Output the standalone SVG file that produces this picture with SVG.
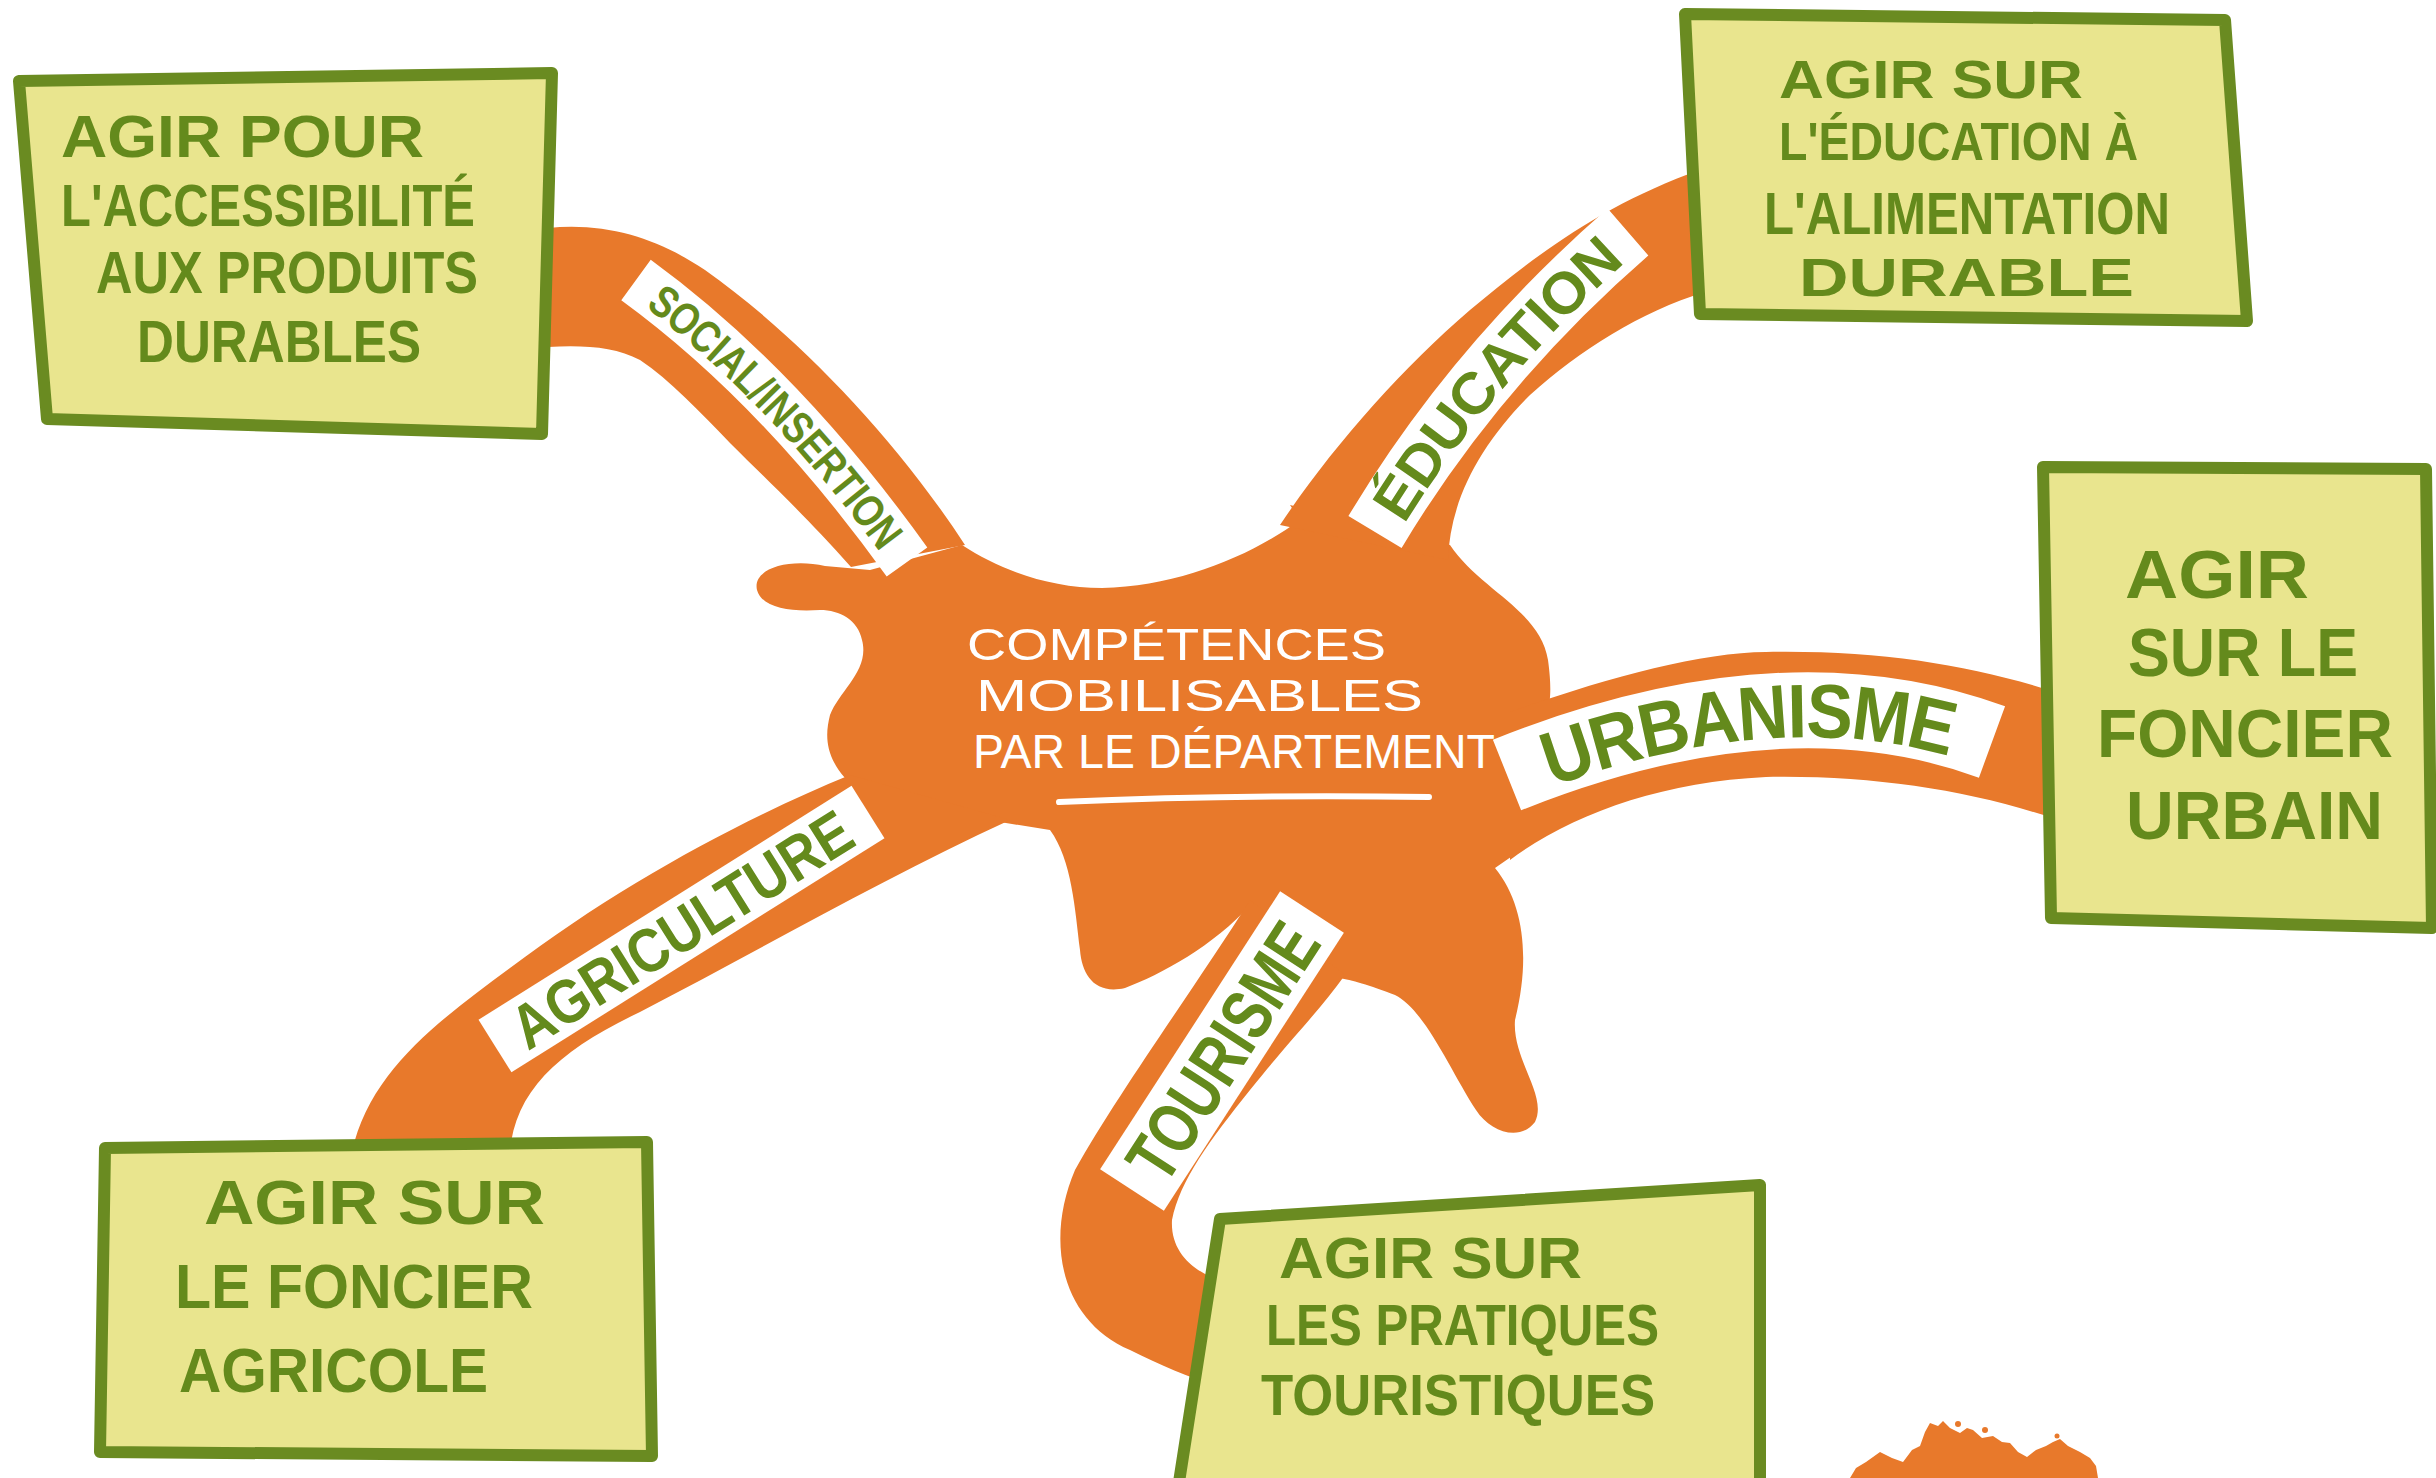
<svg xmlns="http://www.w3.org/2000/svg" width="2436" height="1478" viewBox="0 0 2436 1478">
<style>
.orange{fill:#e8792b}
.box{fill:#e9e58e;stroke:#6a8b21;stroke-width:12;stroke-linejoin:round}
.bt{font-family:'Liberation Sans',Arial,sans-serif;font-weight:bold;fill:#648a1c}
.ct{font-family:'Liberation Sans',Arial,sans-serif;font-weight:normal;fill:#ffffff}
.lbl{fill:none;stroke:#ffffff;stroke-linecap:butt}
.lt{font-family:'Liberation Sans',Arial,sans-serif;font-weight:bold;fill:#648a1c}
</style>
<rect width="2436" height="1478" fill="#ffffff"/>

<g id="center">
<path class="orange" d="M 757,590 C 752,568 790,558 825,566 L 870,570 L 962,545 C 1000,570 1050,588 1102,588 C 1180,586 1250,556 1300,520 L 1290,505 L 1450,545 C 1480,590 1540,610 1548,660 C 1552,690 1550,700 1548,712 L 1550,830 L 1495,868 C 1525,905 1530,960 1515,1020 C 1512,1060 1548,1095 1535,1122 C 1520,1142 1490,1132 1476,1110 C 1450,1070 1425,1010 1395,995 C 1370,985 1350,980 1340,978 L 1250,905 C 1215,945 1160,975 1125,988 C 1095,995 1082,975 1080,950 C 1075,910 1072,860 1050,830 L 1000,822 L 845,778 C 825,755 825,735 830,715 C 840,690 870,670 862,640 C 858,620 840,610 820,610 C 790,612 762,608 757,590 Z"/>
<text class="ct" x="967" y="660" font-size="45" textLength="419" lengthAdjust="spacingAndGlyphs">COMPÉTENCES</text>
<text class="ct" x="976" y="711" font-size="45" textLength="447" lengthAdjust="spacingAndGlyphs">MOBILISABLES</text>
<text class="ct" x="973" y="768" font-size="48" textLength="522" lengthAdjust="spacingAndGlyphs">PAR LE DÉPARTEMENT</text>
<path d="M 1059,802 Q 1240,794 1429,797" fill="none" stroke="#ffffff" stroke-width="6" stroke-linecap="round"/>
</g>

<g id="connectors">
<g id="c-social">
<path class="orange" d="M 548,228 C 610,222 660,240 705,270 C 790,330 890,430 965,545 L 851,567 C 800,510 765,478 730,443 C 700,412 670,380 640,360 C 615,347 585,345 548,347 Z"/>
<path id="p-social" class="lbl" stroke-width="50" d="M 636,280 Q 780,385 907,562"/>
<text class="lt" font-size="45" dy="16"><textPath href="#p-social" startOffset="50%" text-anchor="middle" textLength="345" lengthAdjust="spacingAndGlyphs">SOCIAL/INSERTION</textPath></text>
</g>
<g id="c-education">
<path class="orange" d="M 1280,525 C 1330,450 1400,370 1470,310 C 1530,260 1600,205 1700,170 L 1705,292 C 1640,312 1580,350 1530,395 C 1480,445 1450,500 1448,560 Z"/>
<path id="p-education" class="lbl" stroke-width="62" d="M 1375,532 Q 1475,365 1628,232"/>
<text class="lt" font-size="58" dy="21"><textPath href="#p-education" startOffset="50%" text-anchor="middle" textLength="350" lengthAdjust="spacingAndGlyphs">ÉDUCATION</textPath></text>
</g>
<g id="c-urbanisme">
<path class="orange" d="M 1510,712 C 1600,680 1700,652 1766,652 C 1880,650 1970,665 2055,692 L 2055,819 C 1970,790 1870,775 1766,777 C 1660,782 1570,815 1510,860 Z"/>
<path id="p-urbanisme" class="lbl" stroke-width="76" d="M 1507,775 Q 1782,665 1992,742"/>
<text class="lt" font-size="76" dy="27"><textPath href="#p-urbanisme" startOffset="50%" text-anchor="middle" textLength="420" lengthAdjust="spacingAndGlyphs">URBANISME</textPath></text>
</g>
<g id="c-agriculture">
<path class="orange" d="M 850,775 C 740,820 620,885 510,968 C 440,1020 370,1070 352,1152 L 510,1152 C 515,1090 560,1050 640,1012 C 760,950 880,880 1010,820 Z"/>
<path id="p-agriculture" class="lbl" stroke-width="62" d="M 495,1046 L 868,812"/>
<text class="lt" font-size="62" dy="22"><textPath href="#p-agriculture" startOffset="50%" text-anchor="middle" textLength="390" lengthAdjust="spacingAndGlyphs">AGRICULTURE</textPath></text>
</g>
<g id="c-tourisme">
<path class="orange" d="M 1250,900 C 1200,980 1120,1090 1075,1170 C 1045,1240 1060,1320 1130,1350 C 1160,1365 1190,1378 1215,1385 L 1232,1284 C 1198,1276 1170,1255 1172,1220 C 1180,1180 1210,1140 1250,1090 C 1290,1040 1320,1010 1345,975 Z"/>
<path id="p-tourisme" class="lbl" stroke-width="76" d="M 1132,1190 L 1312,912"/>
<text class="lt" font-size="72" dy="26"><textPath href="#p-tourisme" startOffset="50%" text-anchor="middle" textLength="290" lengthAdjust="spacingAndGlyphs">TOURISME</textPath></text>
</g>
</g>

<g id="box-accessibilite">
<polygon class="box" points="19,81 552,73 542,434 47,419"/>
<text class="bt" x="61" y="157" font-size="59" textLength="363" lengthAdjust="spacingAndGlyphs">AGIR POUR</text>
<text class="bt" x="61" y="226" font-size="59" textLength="414" lengthAdjust="spacingAndGlyphs">L'ACCESSIBILITÉ</text>
<text class="bt" x="96" y="293" font-size="59" textLength="382" lengthAdjust="spacingAndGlyphs">AUX PRODUITS</text>
<text class="bt" x="137" y="362" font-size="59" textLength="284" lengthAdjust="spacingAndGlyphs">DURABLES</text>
</g>

<g id="box-education">
<polygon class="box" points="1685,14 2225,20 2247,321 1700,314"/>
<text class="bt" x="1779" y="98" font-size="54" textLength="304" lengthAdjust="spacingAndGlyphs">AGIR SUR</text>
<text class="bt" x="1779" y="160" font-size="54" textLength="359" lengthAdjust="spacingAndGlyphs">L'ÉDUCATION À</text>
<text class="bt" x="1764" y="234" font-size="60" textLength="406" lengthAdjust="spacingAndGlyphs">L'ALIMENTATION</text>
<text class="bt" x="1799" y="296" font-size="54" textLength="335" lengthAdjust="spacingAndGlyphs">DURABLE</text>
</g>

<g id="box-urbain">
<polygon class="box" points="2043,467 2426,469 2432,928 2051,918"/>
<text class="bt" x="2125" y="598" font-size="69" textLength="184" lengthAdjust="spacingAndGlyphs">AGIR</text>
<text class="bt" x="2128" y="676" font-size="69" textLength="230" lengthAdjust="spacingAndGlyphs">SUR LE</text>
<text class="bt" x="2097" y="757" font-size="69" textLength="296" lengthAdjust="spacingAndGlyphs">FONCIER</text>
<text class="bt" x="2126" y="839" font-size="69" textLength="257" lengthAdjust="spacingAndGlyphs">URBAIN</text>
</g>

<g id="box-agricole">
<polygon class="box" points="105,1148 647,1142 652,1456 100,1452"/>
<text class="bt" x="204" y="1224" font-size="63" textLength="341" lengthAdjust="spacingAndGlyphs">AGIR SUR</text>
<text class="bt" x="175" y="1308" font-size="63" textLength="358" lengthAdjust="spacingAndGlyphs">LE FONCIER</text>
<text class="bt" x="179" y="1392" font-size="63" textLength="309" lengthAdjust="spacingAndGlyphs">AGRICOLE</text>
</g>

<g id="box-touristiques">
<polygon class="box" points="1220,1219 1760,1185 1760,1495 1177,1495"/>
<text class="bt" x="1279" y="1278" font-size="57" textLength="303" lengthAdjust="spacingAndGlyphs">AGIR SUR</text>
<text class="bt" x="1266" y="1345" font-size="58" textLength="393" lengthAdjust="spacingAndGlyphs">LES PRATIQUES</text>
<text class="bt" x="1261" y="1415" font-size="58" textLength="394" lengthAdjust="spacingAndGlyphs">TOURISTIQUES</text>
</g>

<g id="bush">
<path class="orange" d="M 1850,1478 L 1856,1468 L 1866,1462 L 1880,1452 L 1892,1458 L 1903,1462 L 1912,1450 L 1920,1446 L 1925,1432 L 1930,1423 L 1938,1426 L 1943,1421 L 1950,1428 L 1960,1433 L 1967,1428 L 1973,1430 L 1982,1438 L 1993,1436 L 2002,1442 L 2010,1443 L 2018,1452 L 2027,1457 L 2036,1450 L 2046,1446 L 2053,1442 L 2060,1439 L 2068,1446 L 2080,1452 L 2090,1458 L 2096,1466 L 2098,1478 Z"/>
<circle class="orange" cx="1958" cy="1424" r="3"/>
<circle class="orange" cx="1985" cy="1430" r="3"/>
<circle class="orange" cx="2057" cy="1436" r="2.5"/>
</g>
</svg>
